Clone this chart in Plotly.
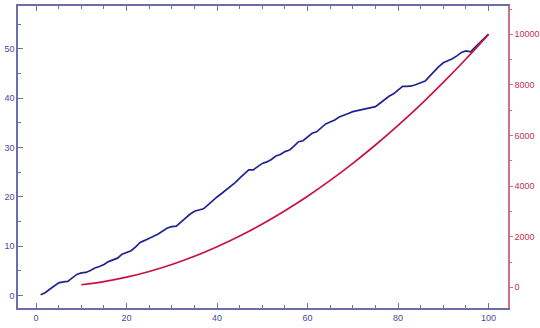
import plotly.graph_objects as go

# Blue series (left axis)
blue_x = list(range(1, 101))
blue_y = [0.2, 0.6, 1.3, 2.0, 2.6, 2.8, 2.9, 3.6, 4.3, 4.6,
          4.7, 5.1, 5.6, 5.9, 6.3, 6.9, 7.2, 7.6, 8.4, 8.7,
          9.1, 9.9, 10.8, 11.2, 11.6, 12.1, 12.5, 13.1, 13.7, 14.0,
          14.1, 14.9, 15.8, 16.5, 17.1, 17.3, 17.6, 18.4, 19.3, 20.0,
          20.7, 21.4, 22.1, 22.9, 23.8, 24.6, 25.5, 25.5, 26.2, 26.8,
          27.1, 27.6, 28.3, 28.6, 29.2, 29.5, 30.3, 31.2, 31.4, 32.1,
          32.9, 33.2, 34.0, 34.8, 35.2, 35.6, 36.2, 36.5, 36.9, 37.3,
          37.5, 37.6, 37.9, 38.1, 38.3, 39.0, 39.7, 40.4, 40.9, 41.6,
          42.4, 42.4, 42.5, 42.8, 43.2, 43.5, 44.5, 45.5, 46.4, 47.2,
          47.6, 48.0, 48.6, 49.3, 49.6, 49.4, 50.3, 51.2, 52.0, 53.0]

# Red series (right axis)
red_x = [10, 15, 20, 25, 30, 35, 40, 45, 50, 55, 60, 65, 70, 75, 80, 85, 90, 95, 100]
red_y = [100, 225, 400, 625, 900, 1225, 1600, 2025, 2500, 3025, 3600,
         4225, 4900, 5625, 6400, 7225, 8100, 9025, 10000]

BLUE = "#1f2490"
RED = "#c8143c"
FRAME = "#6e6ea6"
LBL = "#4a4a96"
RLBL = "#c03052"
RFRAME = "#d07088"

fig = go.Figure()
fig.add_trace(go.Scatter(x=blue_x, y=blue_y, mode="lines",
                         line=dict(color=BLUE, width=1.7), yaxis="y"))
fig.add_trace(go.Scatter(x=red_x, y=red_y, mode="lines",
                         line=dict(color=RED, width=1.7, shape="spline"), yaxis="y2"))

font = dict(family="Liberation Sans, Arial, sans-serif", size=9)

fig.update_layout(
    width=540, height=328,
    margin=dict(l=18, r=32, t=6, b=20),
    paper_bgcolor="white", plot_bgcolor="white",
    showlegend=False,
    xaxis=dict(range=[-4, 104.3], showgrid=False, zeroline=False, automargin=False,
               showline=True, linecolor=FRAME, linewidth=1.5, mirror="ticks",
               ticks="inside", ticklen=5, tickcolor=FRAME, tickwidth=1,
               tickmode="array", tickvals=[0, 20, 40, 60, 80, 100],
               ticktext=["0", "20", "40", "60", "80", "100"],
               tickfont=dict(color=LBL, **font),
               minor=dict(ticks="inside", ticklen=3, tickcolor=FRAME,
                          tickvals=[5, 10, 15, 25, 30, 35, 45, 50, 55, 65, 70, 75, 85, 90, 95])),
    yaxis=dict(range=[-2.5, 58.7], showgrid=False, zeroline=False, automargin=False,
               showline=True, linecolor=FRAME, linewidth=1.5, mirror=False,
               ticks="inside", ticklen=5, tickcolor=FRAME, tickwidth=1,
               tickmode="array", tickvals=[0, 10, 20, 30, 40, 50],
               ticktext=["0", "10", "20", "30", "40", "50"],
               tickfont=dict(color=LBL, **font),
               minor=dict(ticks="inside", ticklen=3, tickcolor=FRAME,
                          tickvals=[5, 15, 25, 35, 45, 55])),
    yaxis2=dict(range=[-818, 11120], overlaying="y", side="right",
                showgrid=False, zeroline=False, automargin=False,
                showline=True, linecolor=RFRAME, linewidth=1.5,
                ticks="outside", ticklen=3, tickcolor=RFRAME, tickwidth=1,
                tickmode="array", tickvals=[0, 2000, 4000, 6000, 8000, 10000],
                ticktext=["0", "2000", "4000", "6000", "8000", "10000"],
                tickfont=dict(color=RLBL, **font),
                minor=dict(ticks="outside", ticklen=2, tickcolor=RFRAME,
                           tickvals=[1000, 3000, 5000, 7000, 9000, 11000])),
)

fig.write_html("out.html")
